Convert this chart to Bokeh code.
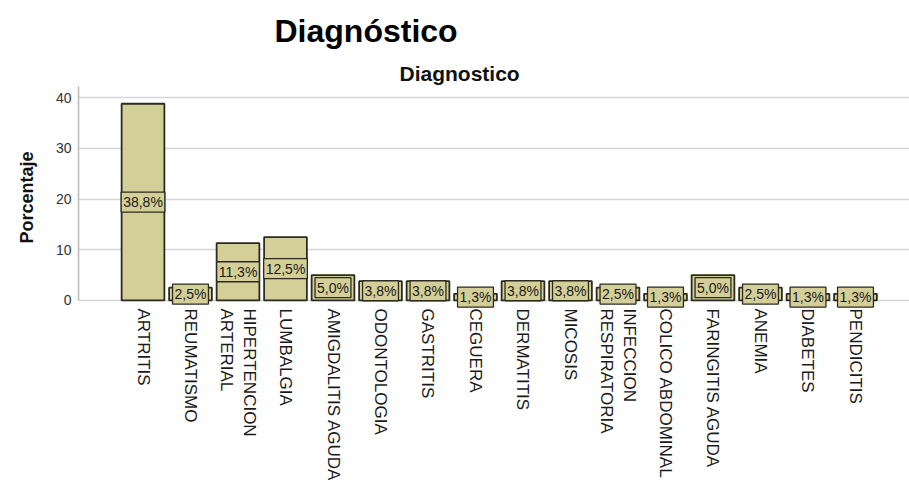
import math
from bokeh.plotting import figure
from bokeh.models import Range1d, FixedTicker, Title, Label
from bokeh.embed import file_html
from bokeh.resources import INLINE

# ---- data ----
categories = ["ARTRITIS", "REUMATISMO", "HIPERTENCION\nARTERIAL", "LUMBALGIA",
              "AMIGDALITIS AGUDA", "ODONTOLOGIA", "GASTRITIS", "CEGUERA",
              "DERMATITIS", "MICOSIS", "INFECCION\nRESPIRATORIA", "COLICO ABDOMINAL",
              "FARINGITIS AGUDA", "ANEMIA", "DIABETES", "PENDICITIS"]
percentages = [38.8, 2.5, 11.3, 12.5, 5.0, 3.8, 3.8, 1.3,
               3.8, 3.8, 2.5, 1.3, 5.0, 2.5, 1.3, 1.3]
bar_labels = ["38,8%", "2,5%", "11,3%", "12,5%", "5,0%", "3,8%", "3,8%", "1,3%",
              "3,8%", "3,8%", "2,5%", "1,3%", "5,0%", "2,5%", "1,3%", "1,3%"]
y_ticks = [0, 10, 20, 30, 40]

xs = list(range(len(categories)))
FILL = "#d4cf98"
EDGE = "#2b2b1f"
FONT = "Liberation Sans"

p = figure(width=909, height=492, output_backend="svg", toolbar_location=None,
           x_range=Range1d(-1.358, 16.137), y_range=Range1d(-1.6, 42.2),
           min_border_left=78, min_border_right=0, min_border_top=86,
           min_border_bottom=184)

p.outline_line_color = None
p.background_fill_color = "white"

# titles (p.title is outermost; added Title sits closer to the frame)
p.title.text = "Diagnóstico"
p.title.text_font = FONT
p.title.text_font_size = "32px"
p.title.text_font_style = "bold"
p.title.align = "left"
p.title.offset = 196
p.title.standoff = 18
p.title.text_color = "#000000"

sub = Title(text="Diagnostico", text_font=FONT, text_font_size="21px",
            text_font_style="bold", align="left", offset=321, text_color="#111111",
            standoff=4)
p.add_layout(sub, "above")

# bars
p.vbar(x=xs, top=percentages, bottom=0, width=0.9,
       fill_color=FILL, line_color=EDGE, line_width=1.8)

# value labels at mid-height
for xi, v, t in zip(xs, percentages, bar_labels):
    p.add_layout(Label(x=xi, y=v / 2, text=t, text_align="center", text_baseline="middle",
                       text_font=FONT, text_font_size="14px", text_color="#1a1a1a",
                       background_fill_color=FILL, border_line_color=EDGE,
                       border_line_width=1.3, padding=2))

# grid
p.xgrid.grid_line_color = None
p.ygrid.ticker = FixedTicker(ticks=y_ticks)
p.ygrid.grid_line_color = "#d6d6d6"
p.ygrid.grid_line_width = 1.5

# x axis
p.xaxis.ticker = FixedTicker(ticks=xs)
p.xaxis.major_label_overrides = {i: c for i, c in zip(xs, categories)}
p.xaxis.major_label_orientation = -math.pi / 2
p.xaxis.major_tick_line_color = None
p.xaxis.major_tick_out = 0
p.xaxis.minor_tick_line_color = None
p.xaxis.axis_line_color = None
p.xaxis.major_label_text_font = FONT
p.xaxis.major_label_text_font_size = "17px"
p.xaxis.major_label_text_color = "#1a1a1a"
p.xaxis.major_label_standoff = 0

# y axis
p.yaxis.ticker = FixedTicker(ticks=y_ticks)
p.yaxis.bounds = (0, 42.2)
p.yaxis.major_tick_line_color = None
p.yaxis.major_tick_out = 0
p.yaxis.minor_tick_line_color = None
p.yaxis.axis_line_color = "#b8b8b8"
p.yaxis.axis_line_width = 1.5
p.yaxis.major_label_text_font = FONT
p.yaxis.major_label_text_font_size = "14px"
p.yaxis.major_label_text_color = "#333333"
p.yaxis.major_label_standoff = 7
p.yaxis.axis_label = "Porcentaje"
p.yaxis.axis_label_text_font = FONT
p.yaxis.axis_label_text_font_size = "18px"
p.yaxis.axis_label_text_font_style = "bold"
p.yaxis.axis_label_text_color = "#111111"
p.yaxis.axis_label_standoff = 16

open("out.html", "w").write(file_html(p, INLINE))
